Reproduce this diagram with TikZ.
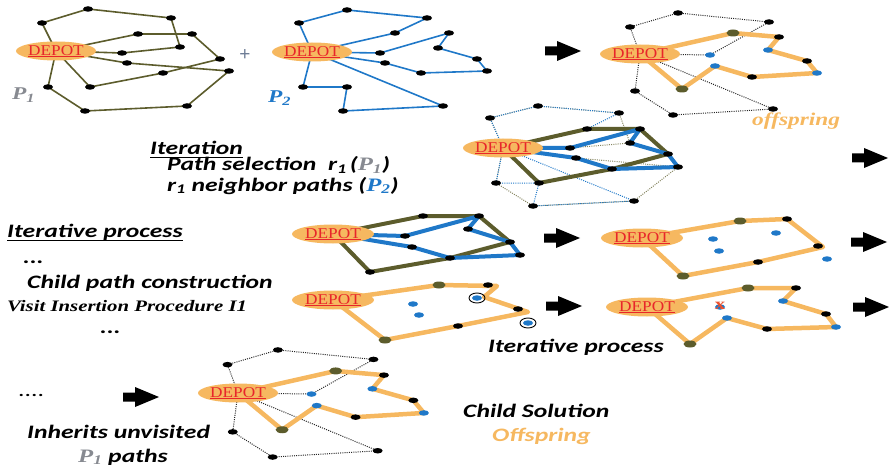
\documentclass[tikz,border=0pt]{standalone}
\usepackage{fontspec}
\usetikzlibrary{shapes.geometric,backgrounds}
\newfontfamily\calib[FakeStretch=1.35]{Carlito}
\newfontfamily\tms[FakeStretch=1.3]{Liberation Serif}
\newfontfamily\deptm[FakeStretch=1.15]{Liberation Serif}
\newfontfamily\plusf{Liberation Sans}
\definecolor{myorange}{RGB}{246,184,96}
\definecolor{olivec}{RGB}{92,92,44}
\definecolor{myblue}{RGB}{31,120,200}
\definecolor{pgray}{RGB}{135,138,145}
\definecolor{depred}{RGB}{232,38,42}
\definecolor{plusc}{RGB}{110,125,150}
\definecolor{xred}{RGB}{235,80,45}
\newcommand\myul[3]{\setbox0\hbox{#3}\rlap{\rule[#1]{\wd0}{#2}}\box0}
\newcommand\depottext{\myul{-1.8pt}{0.8pt}{DEPOT}}
\newcommand\offgraph[4]{%
\begin{scope}[shift={(#2,#3)}, scale=#4]
\node[depot] (#1D) at (0,0) {\depottext};
\foreach \n/\x/\y in {c1/38/-41, c2/-10/-27, c3/129/-32, c5/139/-17, c8/167/7, c10/112/23, c13/-5/37, c14/33/61, c15/133/55}
  \node[vdot] (#1\n) at (\x,\y) {};
\foreach \n/\x/\y in {c6/128/-4, c7/70/1, c9/177/19, c11/75/12}
  \node[bdot] (#1\n) at (\x,\y) {};
\foreach \n/\x/\y in {c4/93/-21, c12/42/35}
  \node[odot] (#1\n) at (\x,\y) {};
\begin{pgfonlayer}{background}
\draw[dotl] (#1D.center) \foreach \n in {c2,c1,c3,c7,D} {-- (#1\n.center)};
\draw[dotl] (#1D.center) \foreach \n in {c13,c14,c15,D} {-- (#1\n.center)};
\draw[orl] (#1D.center) \foreach \n in {c4,c5,c6,c8,c9,c10,c11,c12,D} {-- (#1\n.center)};
\end{pgfonlayer}
\end{scope}}
\begin{document}
\begin{tikzpicture}[x=1pt,y=-1pt,
  depot/.style={ellipse, fill=myorange, minimum width=80pt, minimum height=19pt, inner sep=0pt, text=depred, font=\deptm\fontsize{15}{15}\selectfont},
  vdot/.style={ellipse, fill=black, minimum width=10pt, minimum height=5.5pt, inner sep=0pt},
  odot/.style={vdot, fill=olivec, minimum width=13pt, minimum height=7pt},
  bdot/.style={vdot, fill=myblue, minimum width=10pt, minimum height=5.5pt},
  ol/.style={draw=olivec, line width=1.6pt, line join=round},
  bl/.style={draw=myblue, line width=1.6pt, line join=round},
  olk/.style={draw=olivec, line width=4pt, line join=round},
  blk/.style={draw=myblue, line width=4pt, line join=round},
  orl/.style={draw=myorange, line width=4.5pt, line join=round, line cap=round},
  dotl/.style={draw=black!85, line width=1pt, dash pattern=on 1pt off 1.2pt},
  odotl/.style={draw=olivec!75, line width=1pt, dash pattern=on 1pt off 1.2pt},
  bdotl/.style={draw=myblue, line width=1pt, dash pattern=on 1pt off 1.2pt},
  lbl/.style={anchor=base west, inner sep=0pt, font=\calib\bfseries\itshape\fontsize{19}{19}\selectfont},
  slbl/.style={anchor=base west, inner sep=0pt, font=\tms\bfseries\itshape\fontsize{16}{16}\selectfont},
  plbl/.style={anchor=base west, inner sep=0pt, font=\tms\bfseries\itshape\fontsize{18}{18}\selectfont},
  bigarrow/.pic={\fill[black] (0,-4.5) -- (12,-4.5) -- (12,-10) -- (36,0) -- (12,10) -- (12,4.5) -- (0,4.5) -- cycle;}
]
\useasboundingbox (0,0) rectangle (889,468);

% ---------- Panel 1 : P1
\node[depot] (D1) at (56,51) {\depottext};
\foreach \n/\x/\y in {a1/88/9, a2/42/23, a3/171/18, a4/138/34, a5/192/34, a6/180/47, a7/122/53, a8/127/63, a9/220/59, a10/229/71, a11/163/73, a12/48/87, a13/90/87, a14/85/111, a15/187/106}
  \node[vdot] (\n) at (\x,\y) {};
\begin{pgfonlayer}{background}
\draw[ol] (D1.center) \foreach \n in {a2,a1,a3,a6,a7,D1} {-- (\n.center)};
\draw[ol] (D1.center) \foreach \n in {a4,a5,a9,a11,a13,D1} {-- (\n.center)};
\draw[ol] (D1.center) \foreach \n in {a8,a10,a15,a14,a12,D1} {-- (\n.center)};
\end{pgfonlayer}
\node[plbl, text=pgray] (p1l) at (12,100) {P\textsubscript{1}};
\node[text=plusc, font=\plusf\fontsize{19}{19}\selectfont, inner sep=0pt] (plus) at (245,55) {+};

% ---------- Panel 2 : P2
\node[depot] (D2) at (312,52) {\depottext};
\foreach \n/\x/\y in {b1/347/10, b2/299/23, b3/427/18, b4/395/33, b5/449/33, b6/438/48, b7/380/53, b8/385/63, b9/477/59, b10/487/71, b11/421/73, b12/303/87, b13/347/87, b14/343/111, b15/443/106}
  \node[vdot] (\n) at (\x,\y) {};
\begin{pgfonlayer}{background}
\draw[bl] (D2.center) \foreach \n in {b2,b1,b3,b4,D2} {-- (\n.center)};
\draw[bl] (D2.center) \foreach \n in {b7,b5,b6,b9,b10,b11,b8,D2} {-- (\n.center)};
\draw[bl] (D2.center) \foreach \n in {b12,b13,b14,b15,D2} {-- (\n.center)};
\end{pgfonlayer}
\node[plbl, text=myblue] (p2l) at (268,103) {P\textsubscript{2}};

% ---------- Panel 3 and 9 : offspring
\offgraph{p}{640}{54}{1}
\offgraph{q}{238}{393}{1.05}
\node[plbl, text=myorange] (off2) at (752,126) {offspring};

% ---------- Panel 4 : combined
\node[depot] (D4) at (503,148) {\depottext};
\foreach \n/\x/\y in {d1/538/106, d2/490/118, d3/619/113, d4/587/129, d5/640/129, d6/630/143, d7/570/148, d8/576/158, d9/668/154, d10/678/167, d11/612/169, d12/496/183, d13/539/183, d14/533/206, d15/634/201}
  \node[vdot] (\n) at (\x,\y) {};
\begin{pgfonlayer}{background}
\draw[odotl] (D4.center) \foreach \n in {d2,d1,d3,d6,d7,D4} {-- (\n.center)};
\draw[odotl] (D4.center) \foreach \n in {d8,d10,d15,d14,d12,D4} {-- (\n.center)};
\begin{scope}[yshift=1.2pt]
\draw[bdotl] (D4.center) \foreach \n in {d2,d1,d3,d4,D4} {-- (\n.center)};
\draw[bdotl] (D4.center) \foreach \n in {d12,d13,d14,d15,D4} {-- (\n.center)};
\end{scope}
\draw[olk] (D4.center) \foreach \n in {d4,d5,d9,d11,d13,D4} {-- (\n.center)};
\draw[blk] (D4.center) \foreach \n in {d7,d5,d6,d9,d10,d11,d8,D4} {-- (\n.center)};
\end{pgfonlayer}

% ---------- Panel 5
\node[depot, minimum width=82pt] (D5) at (333,234) {\depottext};
\foreach \n/\x/\y in {e1/423/216, e2/479/216, e3/468/229, e4/405/236, e5/412/247, e6/510/242, e7/520/255, e8/450/258, e9/370/272}
  \node[vdot] (\n) at (\x,\y) {};
\begin{pgfonlayer}{background}
\draw[olk] (D5.center) \foreach \n in {e1,e2,e6,e8,e9,D5} {-- (\n.center)};
\draw[blk] (D5.center) \foreach \n in {e4,e2,e3,e6,e7,e8,e5,D5} {-- (\n.center)};
\end{pgfonlayer}

% ---------- Panel 6
\node[depot, minimum width=82pt] (D6) at (333,300) {\depottext};
\node[odot] (f1) at (439,285) {};
\node[vdot] (f2) at (488,285) {};
\node[bdot] (f3) at (477,298) {};
\node[bdot] (f4) at (413,304) {};
\node[bdot] (f5) at (419,315) {};
\node[vdot] (f6) at (518,309) {};
\node[bdot] (f7) at (528,323) {};
\node[vdot] (f8) at (458,326) {};
\node[odot] (f9) at (385,340) {};
\coordinate (k1) at (497,286);
\coordinate (k2) at (484,297);
\coordinate (k3) at (528,312);
\node[ellipse, draw=black, line width=0.9pt, minimum width=16pt, minimum height=10pt, inner sep=0pt] (f3c) at (f3) {};
\node[ellipse, draw=black, line width=0.9pt, minimum width=16pt, minimum height=10pt, inner sep=0pt] (f7c) at (f7) {};
\begin{pgfonlayer}{background}
\draw[orl] (D6.center) \foreach \n in {f1,k1,k2,k3,f8,f9,D6} {-- (\n.center)};
\end{pgfonlayer}

% ---------- Panel 7
\node[depot, minimum width=82pt] (D7) at (642,238) {\depottext};
\node[odot] (g1) at (740,221) {};
\node[vdot] (g2) at (787,219) {};
\node[bdot] (g3) at (776,233) {};
\node[bdot] (g4) at (713,239) {};
\node[bdot] (g5) at (719,251) {};
\node[vdot] (g6) at (818,246) {};
\node[bdot] (g7) at (827,259) {};
\node[vdot] (g8) at (758,262) {};
\node[odot] (g9) at (683,276) {};
\coordinate (g6b) at (823,247);
\begin{pgfonlayer}{background}
\draw[orl] (D7.center) \foreach \n in {g1,g2,g6b,g8,g9,D7} {-- (\n.center)};
\end{pgfonlayer}

% ---------- Panel 8
\node[depot, minimum width=82pt] (D8) at (647,307) {\depottext};
\node[odot] (h1) at (748,288) {};
\node[vdot] (h2) at (796,288) {};
\node[bdot] (h3) at (783,301) {};
\node[bdot] (h4) at (720,307) {};
\node[bdot] (h5) at (727,318) {};
\node[vdot] (h6) at (826,314) {};
\node[bdot] (h7) at (836,327) {};
\node[vdot] (h8) at (767,329) {};
\node[odot] (h9) at (690,344) {};
\node[text=xred, font=\tms\bfseries\fontsize{16}{16}\selectfont, inner sep=0pt] (xm) at (720,306) {x};
\begin{pgfonlayer}{background}
\draw[orl] (D8.center) \foreach \n in {h1,h2,h3,h6,h7,h8,h5,h9,D8} {-- (\n.center)};
\end{pgfonlayer}

% ---------- Arrows
\pic at (545,51) {bigarrow};
\pic at (852,158) {bigarrow};
\pic at (544,238) {bigarrow};
\pic at (851,242) {bigarrow};
\pic at (546,306) {bigarrow};
\pic at (853,307) {bigarrow};
\pic at (123,397) {bigarrow};

% ---------- Texts
\node[lbl] (it1) at (150,154) {\myul{-4pt}{1.3pt}{Iteration}};
\node[lbl] (ps) at (167,171) {Path selection\ \ r\textsubscript{1}\,(\textcolor{pgray}{\tms P\textsubscript{1}})};
\node[lbl] (np) at (167,191) {r\textsubscript{1} neighbor paths (\textcolor{myblue}{\tms P\textsubscript{2}})};
\node[lbl] (ip) at (7,237) {\myul{-4pt}{1.3pt}{Iterative process}};
\node[lbl] (el1) at (23,263) {...};
\node[lbl] (cpc) at (27,288) {Child path construction};
\node[slbl] (vip) at (7,311) {Visit Insertion Procedure I1};
\node[lbl] (el2) at (100,333) {...};
\node[lbl] (ip2) at (488,352) {Iterative process};
\node[lbl, font=\calib\fontsize{19}{19}\selectfont] (el3) at (18,396) {....};
\node[lbl] (inh) at (27,438) {Inherits unvisited};
\node[lbl] (pp) at (78,462) {\textcolor{pgray}{\tms P\textsubscript{1}} paths};
\node[lbl] (cs) at (463,417) {Child Solution};
\node[lbl, text=myorange] (off) at (492,441) {Offspring};
\end{tikzpicture}
\end{document}
